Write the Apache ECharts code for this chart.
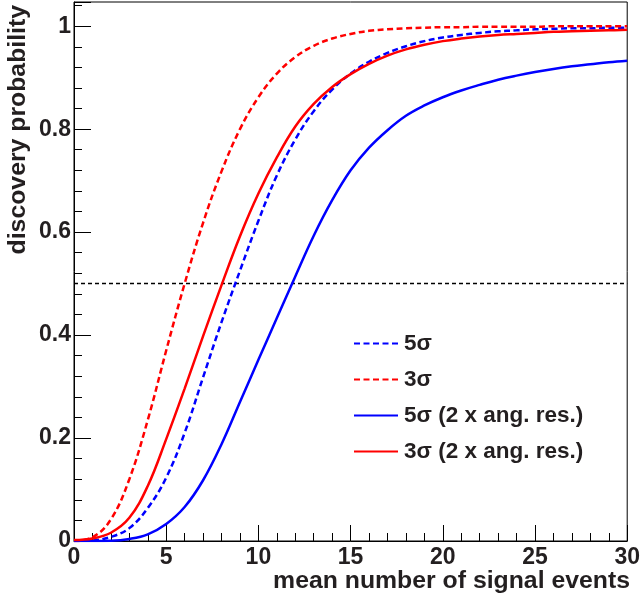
<!DOCTYPE html>
<html>
<head>
<meta charset="utf-8">
<script src="https://cdn.jsdelivr.net/npm/echarts@6/dist/echarts.min.js"></script>
<style>html,body{margin:0;padding:0;background:#fff;}#c{width:643px;height:600px;}</style>
</head>
<body>
<div id="c"></div>
<script>
const xValues = [0,1,2,3,4,5,6,7,8,9,10,11,12,13,14,15,16,17,18,19,20,21,22,23,24,25,26,27,28,29,30];
const sig5 = [0,0.001,0.008,0.025,0.064,0.123,0.21,0.318,0.425,0.525,0.622,0.71,0.78,0.835,0.877,0.908,0.931,0.948,0.961,0.971,0.978,0.983,0.987,0.990,0.992,0.994,0.995,0.996,0.996,0.997,0.997];
const sig3 = [0,0.007,0.042,0.12,0.235,0.37,0.5,0.618,0.718,0.80,0.862,0.908,0.94,0.962,0.976,0.985,0.991,0.994,0.996,0.997,0.998,0.998,0.999,0.999,0.999,0.999,1.0,1.0,1.0,1.0,1.0];
const sig5x2 = [0,0,0.0005,0.004,0.013,0.033,0.066,0.118,0.188,0.27,0.352,0.433,0.514,0.593,0.662,0.72,0.764,0.798,0.826,0.846,0.862,0.875,0.886,0.896,0.904,0.911,0.917,0.922,0.926,0.930,0.933];
const sig3x2 = [0.002,0.005,0.016,0.045,0.107,0.198,0.296,0.398,0.497,0.592,0.675,0.745,0.805,0.849,0.882,0.907,0.927,0.943,0.955,0.964,0.971,0.976,0.980,0.983,0.985,0.987,0.989,0.990,0.991,0.992,0.993];
const refLevel = 0.5;
const seriesNames = ['5σ', '3σ', '5σ (2 x ang. res.)', '3σ (2 x ang. res.)'];
const xTitle = 'mean number of signal events';
const yTitle = 'discovery probability';

function pairs(ys){ return xValues.map((x,i)=>[x, ys[i]]); }

const chart = echarts.init(document.getElementById('c'), null, {renderer:'canvas'});
const FONT = '"Liberation Sans", Helvetica, Arial, sans-serif';
const TXT = '#231f20';
function mkLine(name, data, color, dashed){
  return {
    name, type:'line', data: pairs(data), showSymbol:false, symbol:'none',
    smooth:0.4,
    lineStyle:{color, width:2.5, type: dashed ? [6,3.5] : 'solid'},
    itemStyle:{color}, emphasis:{disabled:true}, animation:false, z:3
  };
}
chart.setOption({
  animation:false,
  backgroundColor:'#fff',
  grid:{left:74, right:13, top:2, bottom:59, show:true, borderColor:'#000', borderWidth:1},
  xAxis:{
    type:'value', min:0, max:30, interval:5,
    axisLine:{show:true, lineStyle:{color:'#000', width:1}},
    axisTick:{show:true, inside:true, length:16, lineStyle:{color:'#000', width:1}},
    minorTick:{show:true, splitNumber:5, length:8, lineStyle:{color:'#000', width:1}},
    splitLine:{show:false},
    axisLabel:{fontFamily:FONT, fontWeight:'bold', fontSize:23, color:TXT, margin:5}
  },
  yAxis:{
    type:'value', min:0, max:1.047, interval:0.2,
    axisLine:{show:true, lineStyle:{color:'#000', width:1}},
    axisTick:{show:true, inside:true, length:17, lineStyle:{color:'#000', width:1}},
    minorTick:{show:true, splitNumber:5, length:8, lineStyle:{color:'#000', width:1}},
    splitLine:{show:false},
    axisLabel:{fontFamily:FONT, fontWeight:'bold', fontSize:23, color:TXT, margin:3,
      formatter:function(v){ const r=Math.round(v*5)/5; if (Math.abs(v-r)>1e-6) return ''; return String(+r.toFixed(1)); }}
  },
  legend:{
    data: seriesNames, orient:'vertical', left:348, top:327,
    itemWidth:44, itemHeight:14, itemGap:13,
    itemStyle:{opacity:0},
    textStyle:{fontFamily:FONT, fontWeight:'bold', fontSize:22.5, color:TXT, lineHeight:22, padding:[0,0,0,1]},
    selectedMode:false
  },
  graphic:[
    {type:'text', x:630, y:581, style:{text:xTitle, font:'bold 24.8px '+FONT, fill:TXT, align:'right', verticalAlign:'middle'}},
    {type:'text', x:6, y:5, rotation:Math.PI/2, style:{text:yTitle, font:'bold 24.8px '+FONT, fill:TXT, align:'right', verticalAlign:'top'}}
  ],
  series:[
    mkLine(seriesNames[0], sig5, '#0000ff', true),
    mkLine(seriesNames[1], sig3, '#ff0000', true),
    mkLine(seriesNames[2], sig5x2, '#0000ff', false),
    mkLine(seriesNames[3], sig3x2, '#ff0000', false),
    {name:'ref', type:'line', data:[[0,refLevel],[30,refLevel]], symbol:'none', showSymbol:false,
     lineStyle:{color:'#000', width:1.5, type:[4,3]}, emphasis:{disabled:true}, z:2, silent:true}
  ]
});
</script>
</body>
</html>
